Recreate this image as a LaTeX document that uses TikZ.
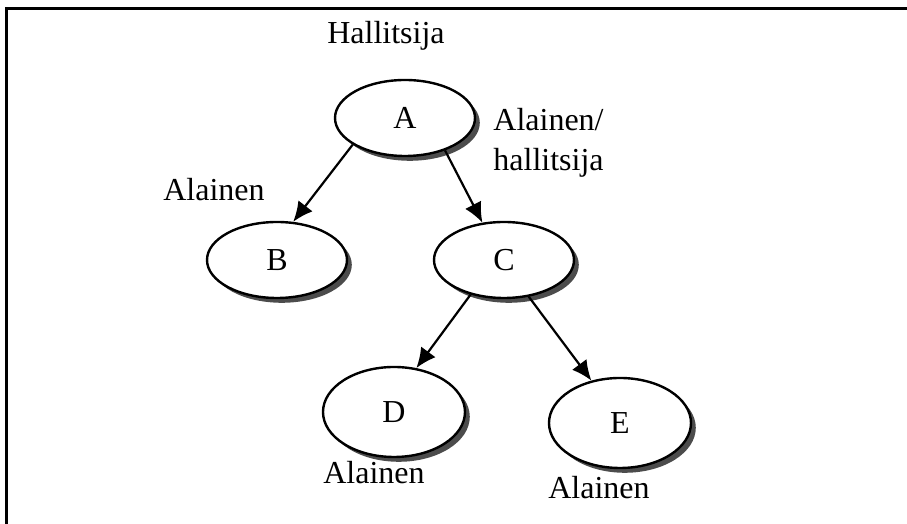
\documentclass[tikz,border=0pt]{standalone}
\usepackage{fontspec}
\setmainfont{Liberation Serif}
\usetikzlibrary{shapes.geometric,shadows,arrows.meta}

\tikzset{
  olio/.style={ellipse,draw,line width=1.2pt,fill=white,inner sep=0pt,
    minimum width=70pt,minimum height=38pt,
    drop shadow={shadow xshift=2.4pt,shadow yshift=-2.4pt,fill=black!70,opacity=1}},
  rooli/.style={inner sep=1pt,align=left},
  suhde/.style={line width=1.1pt,-{Latex[length=10pt,width=9pt]}}
}

\begin{document}
\begin{tikzpicture}[x=0.5pt,y=0.5pt,font=\fontsize{16}{20}\selectfont]
  \useasboundingbox (0,0) rectangle (907,524);
  % kehys: vain ylä- ja vasen reuna
  \draw[line width=1.5pt] (6.5,0) -- (6.5,515) -- (907,515);
  % oliot
  \node[olio] (A) at (405,406) {A};
  \node[olio] (B) at (277,264) {B};
  \node[olio] (C) at (504,264) {C};
  \node[olio,minimum width=71pt,minimum height=45pt] (D) at (394,112) {D};
  \node[olio,minimum width=71pt,minimum height=45pt] (E) at (620,101) {E};
  % roolit
  \node[rooli] (rA) at (386,488) {Hallitsija};
  \node[rooli] (rB) at (214,334) {Alainen};
  \node[rooli,anchor=west] (rC) at (491,381) {Alainen/\\hallitsija};
  \node[rooli] (rD) at (374,51) {Alainen};
  \node[rooli] (rE) at (599,36) {Alainen};
  % hallintasuhteet
  \draw[suhde] (A.207) -- (B.67);
  \draw[suhde] (A.-39) -- (C.120);
  \draw[suhde] (C.226) -- (D.63);
  \draw[suhde] (C.-56) -- (E.124);
\end{tikzpicture}
\end{document}
